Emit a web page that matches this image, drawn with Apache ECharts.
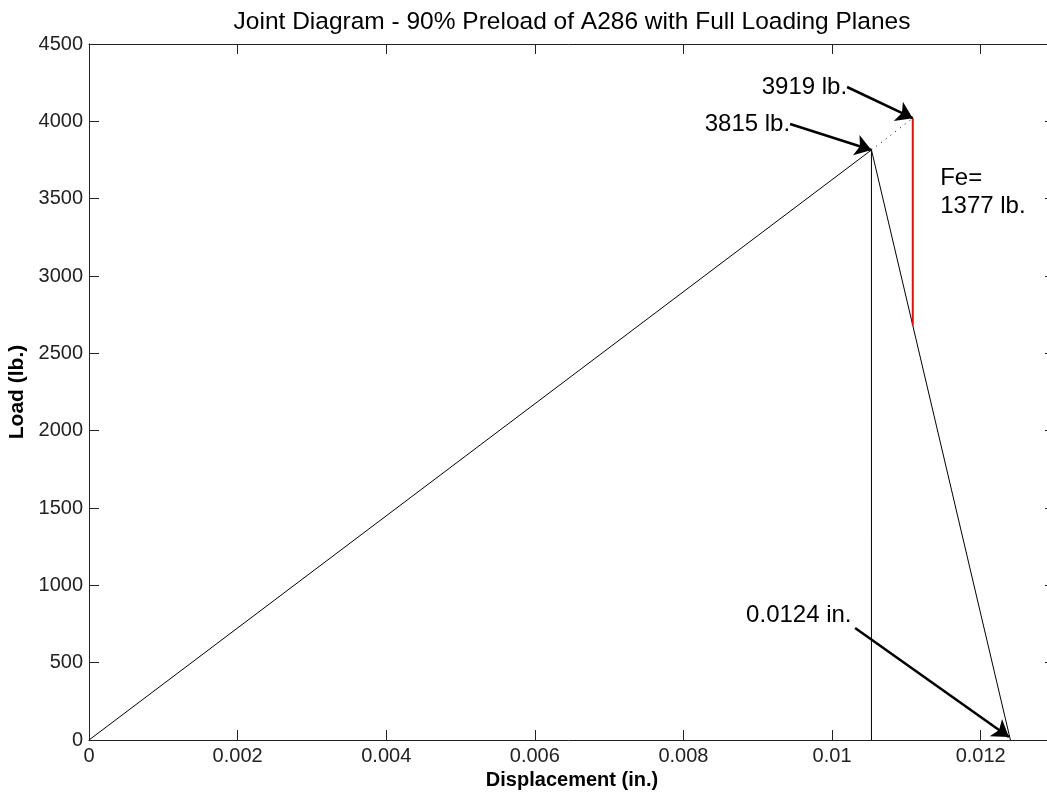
<!DOCTYPE html>
<html>
<head>
<meta charset="utf-8">
<script src="https://cdn.jsdelivr.net/npm/echarts@6/dist/echarts.min.js"></script>
<style>
html,body{margin:0;padding:0;background:#fff;}
#chart{width:1047px;height:793px;}
</style>
</head>
<body>
<div id="chart"></div>
<script>
// ---- data ----
const titleText = 'Joint Diagram - 90% Preload of A286 with Full Loading Planes';
const xAxisTitle = 'Displacement (in.)';
const yAxisTitle = 'Load (lb.)';
const xTickLabels = ['0', '0.002', '0.004', '0.006', '0.008', '0.01', '0.012'];
const yTickLabels = ['0', '500', '1000', '1500', '2000', '2500', '3000', '3500', '4000', '4500'];
// joint diagram: bolt line up to preload, then member line down to zero
const jointX = [0, 0.01053, 0.0124];
const jointY = [0, 3815, 0];
// vertical line at preload displacement
const preloadX = [0.01053, 0.01053];
const preloadY = [0, 3815];
// dotted extension of bolt line
const extX = [0.01053, 0.011086];
const extY = [3815, 4020];
// external load Fe (red)
const feX = [0.011086, 0.011086];
const feY = [2680, 4020];
// annotation arrows: tail and tip
const arrowTailX = [0.010202, 0.009435, 0.01031];
const arrowTailY = [4222, 3983, 724];
const arrowTipX = [0.011086, 0.01053, 0.01238];
const arrowTipY = [4020, 3815, 20];
const arrowText = ['3919 lb.', '3815 lb.', '0.0124 in.'];
// Fe label anchor
const feLabelLines = ['Fe=', '1377 lb.'];
const feLabelX = 0.011455;
const feLabelY = [3630, 3450];

function pts(xs, ys) { return xs.map((x, i) => [x, ys[i]]); }

const FONT = "'Liberation Sans', Arial, Helvetica, sans-serif";
const chart = echarts.init(document.getElementById('chart'), null, {renderer: 'canvas'});

const arrowData = arrowTailX.map((x, i) => [
  {coord: [x, arrowTailY[i]]},
  {coord: [arrowTipX[i], arrowTipY[i]]}
]);

const axisCommon = {
  type: 'value',
  axisLine: {show: true, onZero: false, lineStyle: {color: '#222', width: 1}},
  axisTick: {show: true, inside: true, length: 10, lineStyle: {color: '#222', width: 1}},
  splitLine: {show: false}
};

chart.setOption({
  animation: false,
  backgroundColor: '#fff',
  grid: {left: 89, top: 44, width: 966, height: 696, containLabel: false, outerBoundsMode: 'none'},
  xAxis: [
    Object.assign({}, axisCommon, {
      position: 'bottom', min: 0, max: 0.013, interval: 0.002,
      name: xAxisTitle, nameLocation: 'middle', nameGap: 30,
      nameTextStyle: {fontFamily: FONT, fontSize: 20, fontWeight: 'bold', color: '#000'},
      axisLabel: {
        margin: 6, fontFamily: FONT, fontSize: 20, color: '#222', showMaxLabel: false,
        formatter: v => { const i = Math.round(v / 0.002); return (Math.abs(v - i * 0.002) < 1e-9 && xTickLabels[i] !== undefined) ? xTickLabels[i] : ''; }
      }
    }),
    Object.assign({}, axisCommon, {
      position: 'top', min: 0, max: 0.013, interval: 0.002,
      axisLabel: {show: false}
    })
  ],
  yAxis: [
    Object.assign({}, axisCommon, {
      position: 'left', min: 0, max: 4500, interval: 500,
      name: yAxisTitle, nameLocation: 'middle', nameGap: 56,
      nameTextStyle: {fontFamily: FONT, fontSize: 21, fontWeight: 'bold', color: '#000'},
      axisLabel: {
        margin: 6, fontFamily: FONT, fontSize: 20, color: '#222',
        formatter: v => { const i = Math.round(v / 500); return yTickLabels[i] !== undefined ? yTickLabels[i] : ''; }
      }
    }),
    Object.assign({}, axisCommon, {
      position: 'right', min: 0, max: 4500, interval: 500,
      axisLabel: {show: false}
    })
  ],
  series: [
    {type: 'line', data: pts(jointX, jointY), symbol: 'none', lineStyle: {color: '#000', width: 1}},
    {type: 'line', data: pts(preloadX, preloadY), symbol: 'none', lineStyle: {color: '#000', width: 1}},
    {type: 'line', data: pts(extX, extY), symbol: 'none', lineStyle: {color: '#000', width: 1, type: [1, 5]}},
    {type: 'line', data: pts(feX, feY), symbol: 'none', lineStyle: {color: '#e01010', width: 2}},
    {
      type: 'line', data: [], symbol: 'none',
      markLine: {
        silent: true, symbol: ['none', 'arrow'], symbolSize: 16,
        label: {show: false},
        lineStyle: {color: '#000', width: 2.5, type: 'solid'},
        data: arrowData
      }
    }
  ]
});

// text annotations positioned from data coordinates
const g = [];
const cx = chart.convertToPixel({gridIndex: 0}, [0.0065, 0]);
g.push({type: 'text', x: cx[0], y: 22, style: {text: titleText, font: '24.5px ' + FONT, fill: '#000', textAlign: 'center', textVerticalAlign: 'middle'}});
arrowTailX.forEach((x, i) => {
  const p = chart.convertToPixel({gridIndex: 0}, [x, arrowTailY[i]]);
  const alignRight = i < 2;
  g.push({type: 'text', x: alignRight ? p[0] : p[0] - 109, y: p[1] - (i < 2 ? 0 : 13),
    style: {text: arrowText[i], font: '24px ' + FONT, fill: '#000', textAlign: alignRight ? 'right' : 'left', textVerticalAlign: 'middle'}});
});
feLabelLines.forEach((t, i) => {
  const p = chart.convertToPixel({gridIndex: 0}, [feLabelX, feLabelY[i]]);
  g.push({type: 'text', x: p[0], y: p[1], style: {text: t, font: '24px ' + FONT, fill: '#000', textAlign: 'left', textVerticalAlign: 'middle'}});
});
chart.setOption({graphic: g});
</script>
</body>
</html>
